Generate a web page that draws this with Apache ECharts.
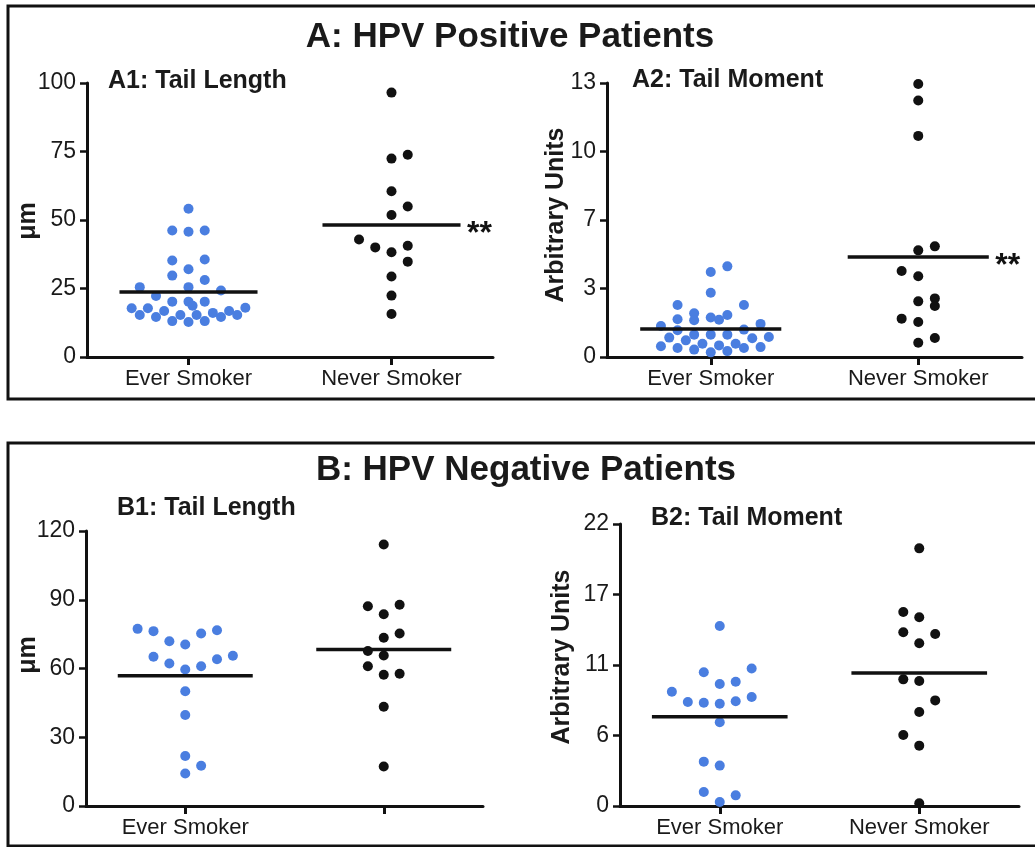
<!DOCTYPE html>
<html>
<head>
<meta charset="utf-8">
<script src="https://cdn.jsdelivr.net/npm/echarts@6/dist/echarts.min.js"></script>
<style>
html,body{margin:0;padding:0;background:#fff;}
#chart{width:1035px;height:847px;}
</style>
</head>
<body>
<div id="chart"></div>
<script>
// ---------- DATA ----------
const categories = ['Ever Smoker', 'Never Smoker'];

// A1: HPV positive, tail length (µm)
const a1EverVals = [54.1,46.2,45.7,46.2,35.2,32.0,35.6,29.7,28.1,25.5,25.5,24.3,22.3,20.2,20.2,20.2,17.8,17.8,15.3,14.6,16.8,15.3,18.7,15.3,16.1,14.6,16.8,15.3,18.0,13.1,12.8,13.1];
const a1EverJit  = [0,-0.08,0,0.08,-0.08,0,0.08,-0.08,0.08,-0.24,0,0.16,-0.16,-0.08,0,0.08,-0.28,-0.2,-0.24,-0.16,-0.12,-0.04,0.02,0.04,0.12,0.16,0.2,0.24,0.28,-0.08,0,0.08];
const a1NeverVals = [96.5,72.4,73.8,60.5,54.9,51.8,42.9,40.0,38.2,40.6,34.8,29.4,22.4,15.7];
const a1NeverJit  = [0,0,0.08,0,0.08,0,-0.16,-0.08,0,0.08,0.08,0,0,0];
const a1Means = [23.7, 48.2];
const a1Signif = ['', '**'];

// A2: HPV positive, tail moment (arbitrary units)
const a2EverVals = [4.30,4.03,3.05,2.47,2.47,2.07,1.79,1.74,1.87,1.77,1.99,1.47,1.57,1.27,1.30,0.92,1.06,1.06,1.06,0.89,0.95,0.79,0.63,0.55,0.63,0.51,0.43,0.35,0.22,0.28,0.43,0.47];
const a2EverJit  = [0.08,0,0,-0.16,0.16,-0.08,-0.16,-0.08,0,0.04,0.08,-0.24,0.24,-0.16,0.16,-0.2,-0.08,0,0.08,0.2,0.28,-0.12,-0.04,0.04,0.12,-0.24,-0.16,-0.08,0,0.08,0.16,0.24];
const a2NeverVals = [12.95,12.17,10.49,5.06,5.25,4.08,3.83,2.64,2.78,2.42,1.82,1.66,0.68,0.90];
const a2NeverJit  = [0,0,0,0,0.08,-0.08,0,0,0.08,0.08,-0.08,0,0,0.08];
const a2Means = [1.33, 4.75];
const a2Signif = ['', '**'];

// B1: HPV negative, tail length (µm)
const b1EverVals = [77.3,76.3,71.9,70.5,75.3,76.7,65.1,62.2,59.6,61.0,64.0,65.6,50.1,39.7,21.8,17.6,14.2];
const b1EverJit  = [-0.24,-0.16,-0.08,0,0.08,0.16,-0.16,-0.08,0,0.08,0.16,0.24,0,0,0,0.08,0];
const b1NeverVals = [114.1,87.2,87.8,83.7,73.4,75.3,67.6,65.7,61.0,57.3,57.7,43.3,17.2];
const b1NeverJit  = [0,-0.08,0.08,0,0,0.08,-0.08,0,-0.08,0,0.08,0,0];
const b1Means = [56.8, 68.3];
const b1Signif = ['', ''];

// B2: HPV negative, tail moment (arbitrary units)
const b2EverVals = [14.04,10.43,10.72,9.52,9.70,8.92,8.11,8.06,7.98,8.17,8.50,6.53,3.46,3.15,1.09,0.83,0.31];
const b2EverJit  = [0,-0.08,0.16,0,0.08,-0.24,-0.16,-0.08,0,0.08,0.16,0,-0.08,0,-0.08,0.08,0];
const b2NeverVals = [20.1,15.14,14.72,13.55,13.42,12.69,9.88,9.75,8.24,7.33,5.54,4.71,0.21];
const b2NeverJit  = [0,-0.08,0,-0.08,0.08,0,-0.08,0,0.08,0,-0.08,0,0];
const b2Means = [6.97, 10.38];
const b2Signif = ['', ''];

// Axis ranges / ticks
const a1Axis = {min: 0, max: 100, interval: 25};
const a2Axis = {min: 0, max: 13, interval: 3.25};
const b1Axis = {min: 0, max: 120, interval: 30};
const b2Axis = {min: 0, max: 22, interval: 5.5};

const panelTitles = ['A1: Tail Length', 'A2: Tail Moment', 'B1: Tail Length', 'B2: Tail Moment'];
const sectionTitles = ['A: HPV Positive Patients', 'B: HPV Negative Patients'];
const yNames = ['\u03bcm', 'Arbitrary Units', '\u03bcm', 'Arbitrary Units'];
const xLabelsShown = [categories, categories, ['Ever Smoker', ''], categories];

// ---------- STYLE ----------
const FONT = '"Liberation Sans", Arial, Helvetica, sans-serif';
const BLUE = '#4a7ee0';
const BLACK = '#111111';
const HALF = 0.34;

const grids = [
  {left: 87, top: 83, width: 406, height: 274},
  {left: 607, top: 83, width: 415, height: 274},
  {left: 86, top: 531, width: 397, height: 275},
  {left: 620, top: 524, width: 399, height: 282}
];
const axisDefs = [a1Axis, a2Axis, b1Axis, b2Axis];
// centre of each rotated y-axis title (pixels)
const yNamePos = [[28, 221], [556, 215], [28, 655], [562, 657]];

const xAxes = grids.map((g, i) => ({
  type: 'value', gridIndex: i, min: 0.5, max: 2.5,
  axisLine: {onZero: false, lineStyle: {color: BLACK, width: 3}},
  axisTick: {show: true, length: 8, lineStyle: {color: BLACK, width: 3}, customValues: [1, 2]},
  axisLabel: {customValues: [1, 2], margin: 11, fontSize: 22, color: '#1a1a1a', fontFamily: FONT,
    formatter: v => xLabelsShown[i][Math.round(v) - 1] || ''},
  splitLine: {show: false}
}));

const yAxes = grids.map((g, i) => ({
  type: 'value', gridIndex: i,
  min: axisDefs[i].min, max: axisDefs[i].max, interval: axisDefs[i].interval,
  axisLine: {show: true, lineStyle: {color: BLACK, width: 3}},
  axisTick: {show: true, length: 7, lineStyle: {color: BLACK, width: 2.5}},
  axisLabel: {margin: 11, fontSize: 23, color: '#1a1a1a', fontFamily: FONT,
    formatter: v => String(Math.round(v))},
  splitLine: {show: false}
}));

function panelSeries(i, everVals, everJit, neverVals, neverJit, means, signif) {
  const s = [];
  s.push({type: 'scatter', xAxisIndex: i, yAxisIndex: i, symbolSize: 10, clip: false, z: 3,
    itemStyle: {color: BLUE, opacity: 1},
    data: everVals.map((v, k) => [1 + everJit[k], v])});
  s.push({type: 'scatter', xAxisIndex: i, yAxisIndex: i, symbolSize: 10, clip: false, z: 3,
    itemStyle: {color: BLACK, opacity: 1},
    data: neverVals.map((v, k) => [2 + neverJit[k], v])});
  means.forEach((m, c) => {
    s.push({type: 'line', xAxisIndex: i, yAxisIndex: i, symbol: 'none', z: 4, silent: true,
      lineStyle: {color: BLACK, width: 3.5},
      data: [[c + 1 - HALF, m], [c + 1 + HALF, m]]});
  });
  s.push({type: 'scatter', xAxisIndex: i, yAxisIndex: i, symbolSize: 1, z: 5, silent: true,
    itemStyle: {opacity: 1, color: 'rgba(0,0,0,0)'},
    label: {show: true, position: 'right', distance: 6, offset: [0, 9],
      formatter: p => signif[p.dataIndex], fontSize: 32, fontWeight: 'bold', color: '#111', opacity: 1, fontFamily: FONT},
    data: means.map((m, c) => [c + 1 + HALF, m])});
  return s;
}

const series = [].concat(
  panelSeries(0, a1EverVals, a1EverJit, a1NeverVals, a1NeverJit, a1Means, a1Signif),
  panelSeries(1, a2EverVals, a2EverJit, a2NeverVals, a2NeverJit, a2Means, a2Signif),
  panelSeries(2, b1EverVals, b1EverJit, b1NeverVals, b1NeverJit, b1Means, b1Signif),
  panelSeries(3, b2EverVals, b2EverJit, b2NeverVals, b2NeverJit, b2Means, b2Signif)
);

function txt(text, x, y, size, align, rot) {
  return {type: 'text', x: x, y: y, rotation: rot || 0, z: 10, silent: true,
    style: {text: text, fill: '#1a1a1a', font: 'bold ' + size + 'px ' + FONT,
      textAlign: align, textVerticalAlign: 'middle', align: align, verticalAlign: 'middle'}};
}

const graphic = [
  {type: 'rect', shape: {x: 8, y: 6, width: 1040, height: 393}, style: {fill: 'none', stroke: BLACK, lineWidth: 3}, silent: true},
  {type: 'rect', shape: {x: 8, y: 443, width: 1040, height: 403}, style: {fill: 'none', stroke: BLACK, lineWidth: 3}, silent: true},
  txt(sectionTitles[0], 510, 37, 35, 'center'),
  txt(sectionTitles[1], 526, 470, 35, 'center'),
  txt(panelTitles[0], 108, 81, 25, 'left'),
  txt(panelTitles[1], 632, 80, 25, 'left'),
  txt(panelTitles[2], 117, 508, 25, 'left'),
  txt(panelTitles[3], 651, 518, 25, 'left')
].concat(yNames.map((n, i) => txt(n, yNamePos[i][0], yNamePos[i][1], 25, 'center', Math.PI / 2)));

const chart = echarts.init(document.getElementById('chart'), null, {renderer: 'canvas'});
chart.setOption({
  animation: false,
  backgroundColor: '#ffffff',
  grid: grids.map(g => Object.assign({containLabel: false}, g)),
  xAxis: xAxes,
  yAxis: yAxes,
  series: series,
  graphic: graphic
});
</script>
</body>
</html>
